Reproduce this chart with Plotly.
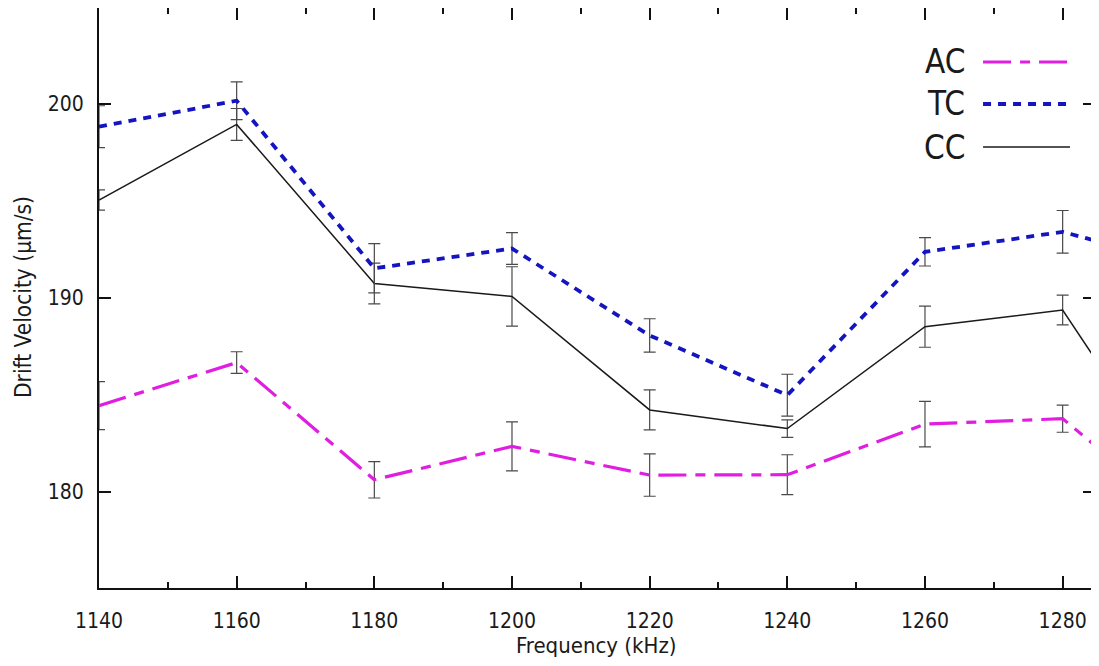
import plotly.graph_objects as go

freq = [1140, 1160, 1180, 1200, 1220, 1240, 1260, 1280, 1300]

ac = [184.45, 186.67, 180.63, 182.35, 180.87, 180.89, 183.5, 183.78, 177.9]
ac_err = [1.24, 0.56, 0.94, 1.26, 1.09, 1.03, 1.17, 0.7, 0.9]

tc = [198.83, 200.17, 191.53, 192.55, 188.07, 184.99, 192.38, 193.41, 191.5]
tc_err = [1.08, 0.97, 1.27, 0.82, 0.86, 1.08, 0.73, 1.1, 0.9]

cc = [195.05, 198.95, 190.75, 190.08, 184.23, 183.27, 188.52, 189.38, 178.7]
cc_err = [0.52, 0.82, 1.05, 1.53, 1.03, 0.45, 1.06, 0.77, 0.9]

series_names = ["AC", "TC", "CC"]
x_title = "Frequency (kHz)"
y_title = "Drift Velocity (µm/s)"

FONT = "DejaVu Sans Condensed, DejaVu Sans, sans-serif"
TXT = "#1a1a1a"
ERRC = "#4a4a4a"

styles = {
    "AC": dict(color="#e01ee0", width=3.2, dash="28px,9px,10px,9px"),
    "TC": dict(color="#1414c0", width=3.8, dash="8px,7px"),
    "CC": dict(color="#1a1a1a", width=1.5, dash="solid"),
}

fig = go.Figure()
for name, ys, es in [("AC", ac, ac_err), ("CC", cc, cc_err), ("TC", tc, tc_err)]:
    fig.add_trace(go.Scatter(
        x=freq, y=ys, mode="lines", name=name,
        line=styles[name],
        error_y=dict(type="data", array=es, visible=True, color=ERRC,
                     thickness=1.2, width=6),
        showlegend=False,
    ))

# manual legend (text left of line sample, gnuplot style)
x0p, x1p, xtext = 0.8876, 0.9749, 0.8715
legend_y = {"AC": 0.9069, "TC": 0.8345, "CC": 0.7603}
for name in series_names:
    yp = legend_y[name]
    fig.add_shape(type="line", xref="paper", yref="paper",
                  x0=x0p, x1=x1p, y0=yp, y1=yp,
                  line=dict(color=styles[name]["color"],
                            width=styles[name]["width"],
                            dash=styles[name]["dash"]))
    fig.add_annotation(xref="paper", yref="paper", x=xtext, y=yp,
                       text=name, showarrow=False, xanchor="right",
                       yanchor="middle",
                       font=dict(family=FONT, size=33, color=TXT))

# axis titles
fig.add_annotation(xref="paper", yref="paper", x=0.4995, y=-0.0983,
                   text=x_title, showarrow=False, xanchor="center",
                   yanchor="middle", font=dict(family=FONT, size=22, color=TXT))
fig.add_annotation(xref="paper", yref="paper", x=-0.0763, y=0.5017,
                   text=y_title, showarrow=False, xanchor="center",
                   yanchor="middle", textangle=-90,
                   font=dict(family=FONT, size=22.5, color=TXT))

axis_common = dict(
    showline=True, linecolor="#111111", linewidth=2, mirror="allticks",
    ticks="inside", tickcolor="#111111", tickwidth=1.5,
    showgrid=False, zeroline=False, automargin=False,
    tickfont=dict(family=FONT, size=21, color=TXT),
)

fig.update_xaxes(
    range=[1140, 1284.7], tick0=1140, dtick=20, ticklen=12,
    minor=dict(ticks="inside", dtick=10, tick0=1140, ticklen=6,
               tickcolor="#111111", tickwidth=1.5, showgrid=False),
    ticklabelstandoff=13,
    **axis_common,
)
fig.update_yaxes(
    range=[175.05, 204.95], tickvals=[180, 190, 200], ticklen=12,
    ticklabelstandoff=9,
    **axis_common,
)

# the page body adds an 8px offset; margins compensate so the plot area
# lands at x 99..1095, y 8..588 in the window
fig.update_layout(
    width=1091, height=658,
    margin=dict(l=91, r=4, t=0, b=78),
    paper_bgcolor="white", plot_bgcolor="white",
)

fig.write_html("out.html")
